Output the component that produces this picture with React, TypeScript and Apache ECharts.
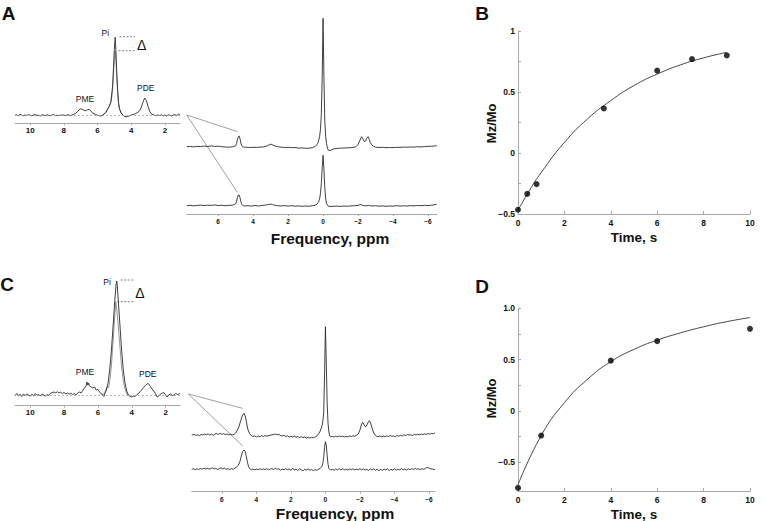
import React, { useEffect, useRef } from "react";
import * as echarts from "echarts";

// ---------- DATA ----------
// Inset A (31P spectrum, ppm vs. peak height above baseline)
const INSET_A_DARK: number[][] = [
  [10.9, 0], [10.8, 0.6], [10.7, -0.4], [10.6, 0.9], [10.5, 0.2], [10.4, -0.5], [10.3, 0.4], [10.2, -0.2], [10.1, 0.7], [10.0, 0],
  [9.9, -0.6], [9.8, 0.3], [9.7, 0.8], [9.6, -0.2], [9.5, 0.1], [9.4, -0.7], [9.3, 0.5], [9.2, 0.2], [9.1, -0.3], [9.0, 0.6],
  [8.9, 0], [8.8, -0.4], [8.7, 0.3], [8.6, 0.7], [8.5, -0.2], [8.4, 0.1], [8.3, -0.5], [8.2, 0.4], [8.1, 0], [8.0, 0.3],
  [7.9, -0.3], [7.8, 0.5], [7.7, 0.2], [7.6, -0.2], [7.5, 0.4], [7.4, 1], [7.3, 2], [7.2, 3.5], [7.1, 5.5], [7.0, 6.5],
  [6.9, 6], [6.8, 5], [6.7, 4.5], [6.6, 5.5], [6.5, 6], [6.4, 4.5], [6.3, 2.5], [6.2, 1.5], [6.1, 0.8], [6.0, 0.2],
  [5.9, -0.5], [5.8, -0.7], [5.7, 0], [5.6, 1.2], [5.5, 3], [5.4, 6], [5.3, 9], [5.2, 14], [5.1, 30], [5.05, 48],
  [5.0, 66], [4.95, 78], [4.9, 62], [4.85, 40], [4.8, 24], [4.75, 13], [4.7, 7], [4.6, 2.5], [4.5, 0.5], [4.4, -1],
  [4.3, -1.5], [4.2, -1.2], [4.1, -0.5], [4.0, 0.3], [3.9, 0.8], [3.8, 1.2], [3.7, 2], [3.6, 3], [3.5, 4.5], [3.4, 8],
  [3.3, 13], [3.2, 17.3], [3.1, 15], [3.0, 9], [2.9, 4], [2.8, 1.5], [2.7, 0.5], [2.6, 0], [2.5, -0.4], [2.4, 0.5],
  [2.3, -0.3], [2.2, 0.6], [2.1, -0.5], [2.0, 0.2], [1.9, -0.6], [1.8, 0.4], [1.7, 0.1], [1.6, -0.7], [1.5, 0.3], [1.4, 0.6],
  [1.3, -0.2], [1.2, 1.2], [1.1, 0.3],
];
const INSET_A_LIGHT: number[][] = [
  [5.8, -0.5], [5.7, 0.3], [5.6, 1.5], [5.5, 3.5], [5.4, 6.5], [5.3, 9], [5.2, 13], [5.1, 26], [5.05, 40], [5.0, 55],
  [4.95, 63.6], [4.9, 54], [4.85, 36], [4.8, 22], [4.75, 12], [4.7, 6.5], [4.6, 2.5], [4.5, 0.3], [4.4, -1], [4.3, -1.3],
];

// Main spectrum A
const SPEC_A_TOP: number[][] = [
  [7.8, 0], [7.6, 0.3], [7.4, -0.2], [7.2, 0.4], [7.0, 0.1], [6.8, 0.6], [6.6, 0.2], [6.4, 0.8], [6.2, 0.3], [6.0, 0.5],
  [5.8, 0], [5.6, -0.3], [5.4, -0.5], [5.2, -0.2], [5.1, 0.2], [5.0, 1], [4.95, 3], [4.9, 7], [4.85, 10], [4.8, 10.7],
  [4.75, 8], [4.7, 3.5], [4.65, 1], [4.6, 0], [4.5, -0.6], [4.4, -0.5], [4.2, -0.8], [4.0, -0.6], [3.8, -0.7], [3.6, -0.4],
  [3.4, -0.2], [3.2, 0.8], [3.1, 1.8], [3.0, 2.5], [2.9, 2], [2.8, 1], [2.6, 0], [2.4, -0.5], [2.2, -0.8], [2.0, -0.6],
  [1.8, -1], [1.6, -0.8], [1.4, -1.4], [1.2, -1.2], [1.0, -1.6], [0.8, -1.5], [0.6, -1], [0.45, 0.3], [0.35, 2], [0.3, 3.5],
  [0.25, 6], [0.2, 10], [0.15, 17], [0.1, 32], [0.05, 70], [0, 128.4], [-0.05, 68], [-0.1, 26], [-0.15, 10], [-0.2, 3],
  [-0.25, -1.5], [-0.3, -3.5], [-0.4, -3.8], [-0.5, -3], [-0.6, -2.2], [-0.8, -1.8], [-1.0, -1.4], [-1.2, -1.3], [-1.4, -1.1], [-1.6, -1],
  [-1.8, -0.5], [-1.9, 0.2], [-2.0, 2], [-2.1, 6], [-2.2, 10], [-2.25, 9], [-2.3, 7], [-2.35, 5.5], [-2.4, 5], [-2.45, 6.5],
  [-2.5, 8.5], [-2.57, 10], [-2.65, 7], [-2.7, 4], [-2.8, 1.5], [-2.9, 0.3], [-3.0, -0.5], [-3.2, -0.8], [-3.4, -0.6], [-3.6, -1],
  [-3.8, -0.8], [-4.0, -0.9], [-4.2, -0.6], [-4.4, -0.7], [-4.6, -0.4], [-4.8, -0.5], [-5.0, -0.3], [-5.2, -0.4], [-5.4, 0], [-5.6, -0.2],
  [-5.8, 0.1], [-6.0, 0.3], [-6.2, 0.4], [-6.4, 0.8], [-6.5, 1],
];
const SPEC_A_BOTTOM: number[][] = [
  [7.8, 0], [7.6, 0.4], [7.4, -0.2], [7.2, 0.3], [7.0, 0.6], [6.8, 0.1], [6.6, 0.5], [6.4, 0.3], [6.2, 0.7], [6.0, 0.2],
  [5.8, 0.4], [5.6, 0], [5.4, 0.3], [5.2, 0.5], [5.1, 1], [5.0, 2], [4.95, 4], [4.9, 8], [4.85, 10.5], [4.8, 10.7],
  [4.75, 8], [4.7, 4], [4.65, 1.5], [4.6, 0.3], [4.5, -0.3], [4.3, 0], [4.1, -0.4], [3.9, 0.2], [3.7, -0.3], [3.5, 0.2],
  [3.3, 0.6], [3.1, 1.3], [3.0, 1.5], [2.9, 1.2], [2.8, 0.6], [2.6, 0], [2.4, -0.3], [2.2, 0.1], [2.0, -0.4], [1.8, 0],
  [1.6, -0.5], [1.4, -0.2], [1.2, -0.6], [1.0, -0.3], [0.8, -0.5], [0.6, 0], [0.45, 0.5], [0.35, 1.5], [0.25, 4], [0.2, 7],
  [0.15, 12], [0.1, 22], [0.05, 38], [0, 50.4], [-0.05, 36], [-0.1, 18], [-0.15, 7], [-0.2, 2], [-0.3, -0.5], [-0.4, -0.8],
  [-0.6, -0.6], [-0.8, -0.4], [-1.0, -0.7], [-1.2, -0.3], [-1.4, -0.5], [-1.6, -0.2], [-1.8, 0], [-2.0, 0.3], [-2.15, 1.2], [-2.25, 0.5],
  [-2.4, -0.2], [-2.6, 0.3], [-2.8, -0.3], [-3.0, 0], [-3.2, -0.5], [-3.4, -0.2], [-3.6, -0.6], [-3.8, -0.3], [-4.0, -0.5], [-4.2, 0],
  [-4.4, -0.4], [-4.6, -0.1], [-4.8, -0.3], [-5.0, 0.1], [-5.2, -0.2], [-5.4, 0.2], [-5.6, 0], [-5.8, 0.3], [-6.0, 0.1], [-6.2, 0.5],
  [-6.4, 1], [-6.5, 1.5],
];

// Panel B
const B_TIME = [0, 0.4, 0.8, 3.7, 6, 7.5, 9];
const B_MZ = [-0.465, -0.335, -0.255, 0.365, 0.675, 0.77, 0.8];
const B_FIT_TIME = [0, 0.5, 1, 2, 3, 4, 5, 6, 7, 8, 9];
const B_FIT_MZ = [-0.47, -0.305, -0.16, 0.087, 0.28, 0.43, 0.553, 0.647, 0.722, 0.78, 0.825];

// Inset C
const INSET_C_DARK: number[][] = [
  [10.9, -0.5], [10.8, 1.5], [10.7, -1], [10.6, 0.8], [10.5, -1.5], [10.4, 1], [10.3, -0.5], [10.2, 1.2], [10.1, 0], [10.0, -1.2],
  [9.9, 0.8], [9.8, -0.8], [9.7, 1.5], [9.6, -0.3], [9.5, 0.5], [9.4, -1], [9.3, 1], [9.2, 0], [9.1, -1.2], [9.0, 0.5],
  [8.9, -0.5], [8.8, 1.8], [8.7, 2.5], [8.6, 3], [8.5, 2.2], [8.4, 3.2], [8.3, 2], [8.2, 2.8], [8.1, 1.5], [8.0, 2.5],
  [7.9, 1.2], [7.8, 2], [7.7, 0.8], [7.6, 1.8], [7.5, 0.5], [7.4, 1.5], [7.3, 0.2], [7.2, 1.8], [7.1, 3], [7.0, 2],
  [6.9, 4.5], [6.8, 7], [6.7, 9], [6.65, 13], [6.6, 10], [6.55, 12], [6.5, 9], [6.4, 8], [6.3, 7], [6.2, 8],
  [6.1, 5], [6.0, 5.5], [5.9, 3], [5.8, 1], [5.7, -0.5], [5.65, -1.5], [5.6, 1], [5.5, 5], [5.4, 12], [5.3, 26],
  [5.2, 45], [5.1, 70], [5.0, 95], [4.93, 110], [4.89, 114], [4.85, 108], [4.8, 95], [4.7, 70], [4.6, 45], [4.5, 25],
  [4.4, 12], [4.3, 4], [4.2, 0], [4.1, -1.5], [4.0, -2], [3.9, -1], [3.8, -1.5], [3.7, 0.5], [3.6, 1.5], [3.5, 3.5],
  [3.4, 5.5], [3.3, 7.5], [3.2, 9.5], [3.1, 11], [3.05, 11.7], [3.0, 11], [2.9, 8.5], [2.8, 6], [2.7, 4], [2.6, 1.5],
  [2.5, -2], [2.4, -1], [2.3, 1], [2.2, 2], [2.1, 2.3], [2.0, 0], [1.9, -2], [1.8, 0.5], [1.7, 1], [1.6, -0.5],
  [1.5, 0], [1.4, 1.5], [1.3, 0.5], [1.2, 1], [1.15, 1.5],
];
const INSET_C_LIGHT: number[][] = [
  [5.8, 1], [5.7, 0], [5.6, 2.5], [5.5, 6], [5.45, 8], [5.4, 7], [5.35, 9], [5.3, 14], [5.2, 30], [5.1, 55],
  [5.0, 80], [4.95, 93.3], [4.9, 88], [4.8, 70], [4.7, 48], [4.6, 28], [4.5, 14], [4.4, 6], [4.3, 1.5], [4.2, -0.5],
];

// Main spectrum C
const SPEC_C_TOP: number[][] = [
  [7.75, 0], [7.6, 0.5], [7.5, -0.5], [7.4, 0.2], [7.3, -0.8], [7.2, 0.6], [7.1, 0], [7.0, 1], [6.9, 0.3], [6.8, 1.2],
  [6.7, 0], [6.6, 0.8], [6.5, -0.3], [6.4, 1], [6.3, 1.5], [6.2, 0.5], [6.1, 1.8], [6.0, 0.6], [5.9, 1.4], [5.8, 0.4],
  [5.7, 1], [5.6, 0.2], [5.5, 0.8], [5.4, 0], [5.3, 0.6], [5.2, 2], [5.1, 5], [5.0, 9], [4.9, 15], [4.8, 20],
  [4.72, 21.7], [4.65, 19], [4.6, 15], [4.5, 6], [4.4, 1.5], [4.3, -0.5], [4.2, -1.5], [4.1, -0.8], [4.0, -2], [3.9, -1],
  [3.8, -1.8], [3.7, -0.6], [3.6, -1.5], [3.5, -0.5], [3.4, -1.2], [3.2, -0.2], [3.0, 0.5], [2.9, 1], [2.8, 0.3], [2.7, 0.6],
  [2.6, -0.5], [2.5, -1], [2.4, -0.3], [2.3, -1.5], [2.2, -0.8], [2.1, -2], [2.0, -1.2], [1.9, -2], [1.8, -1], [1.7, -2.3],
  [1.6, -1.5], [1.5, -2.5], [1.4, -1.7], [1.3, -2.6], [1.2, -2], [1.1, -3], [1.0, -2.2], [0.9, -3], [0.8, -2.4], [0.7, -2.8],
  [0.6, -2], [0.5, -1], [0.4, 1], [0.3, 4], [0.2, 9], [0.15, 14], [0.1, 22], [0.05, 60], [0, 108.3], [-0.05, 72],
  [-0.1, 32], [-0.15, 12], [-0.2, 3], [-0.25, -1], [-0.3, -1.8], [-0.4, -1.5], [-0.5, -2], [-0.6, -1.2], [-0.7, -1.8], [-0.8, -1],
  [-0.9, -1.6], [-1.0, -1.2], [-1.1, -2], [-1.2, -1.3], [-1.3, -1.8], [-1.4, -1], [-1.5, -1.5], [-1.6, -0.8], [-1.7, -1.2], [-1.8, -0.3],
  [-1.9, 1], [-2.0, 5], [-2.08, 10], [-2.15, 12.7], [-2.22, 11], [-2.3, 8.5], [-2.35, 8.3], [-2.42, 10.5], [-2.5, 13.5], [-2.55, 14.3],
  [-2.62, 12], [-2.7, 7], [-2.78, 3], [-2.85, 0.5], [-2.95, -1], [-3.05, -1.8], [-3.15, -1], [-3.25, -2], [-3.35, -1.2], [-3.45, -1.8],
  [-3.55, -0.8], [-3.65, -1.5], [-3.75, -0.6], [-3.85, -1.3], [-3.95, -1], [-4.05, -1.8], [-4.15, -0.5], [-4.25, -1.2], [-4.35, -0.3], [-4.45, -1],
  [-4.55, 0.2], [-4.65, -0.6], [-4.75, 0.5], [-4.85, -0.2], [-4.95, 0.3], [-5.05, -0.5], [-5.15, 0.6], [-5.25, 0], [-5.35, 0.8], [-5.45, 0.2],
  [-5.55, 1], [-5.65, 0.3], [-5.75, 1.2], [-5.85, 0.6], [-5.95, 1.5], [-6.05, 0.8], [-6.15, 1.6], [-6.25, 1.2], [-6.35, 2.2],
];
const SPEC_C_BOTTOM: number[][] = [
  [7.75, 0], [7.65, 0.6], [7.55, -0.4], [7.45, 0.5], [7.35, -0.2], [7.25, 0.8], [7.15, 0.1], [7.05, 1], [6.95, 0.3], [6.85, 1.2],
  [6.75, 0.2], [6.65, 0.7], [6.55, 1.5], [6.45, 0.3], [6.35, 1], [6.25, -0.2], [6.15, 0.8], [6.05, 1.6], [5.95, 0.4], [5.85, 1.1],
  [5.75, 0], [5.65, 0.7], [5.55, -0.3], [5.45, 0.6], [5.35, 0], [5.25, 1], [5.15, 2.5], [5.05, 4], [4.95, 8], [4.88, 13],
  [4.8, 17.5], [4.72, 19.3], [4.65, 18], [4.6, 14], [4.52, 7], [4.45, 2.5], [4.38, 0.5], [4.3, -0.5], [4.2, 0.3], [4.1, -0.6],
  [4.0, 0.2], [3.9, -0.4], [3.8, 0.5], [3.7, -0.3], [3.6, 0.4], [3.5, -0.2], [3.4, 0.6], [3.3, -0.5], [3.2, 0.3], [3.1, 0.7],
  [3.0, -0.2], [2.9, 1], [2.8, 0], [2.7, 0.5], [2.6, -0.8], [2.5, 0.2], [2.4, -0.5], [2.3, 0.6], [2.2, -0.3], [2.1, 0.4],
  [2.0, -1], [1.9, 1.2], [1.8, -0.8], [1.7, 0.3], [1.6, -1.2], [1.5, 0.5], [1.4, -0.6], [1.3, -1.5], [1.2, 0], [1.1, -0.8],
  [1.0, 0.4], [0.9, -1], [0.8, -0.2], [0.7, -1.3], [0.6, -0.3], [0.5, -1], [0.4, 0], [0.3, 1], [0.2, 3], [0.15, 6],
  [0.1, 12], [0.05, 22], [0, 27.6], [-0.05, 24], [-0.1, 14], [-0.15, 5], [-0.2, 1], [-0.3, -0.8], [-0.4, 0.2], [-0.5, -1],
  [-0.6, 0.3], [-0.7, -0.6], [-0.8, 0.5], [-0.9, -0.4], [-1.0, 0.6], [-1.1, -0.5], [-1.2, 0.2], [-1.3, -0.8], [-1.4, 0.4], [-1.5, -0.3],
  [-1.6, 0.5], [-1.7, -0.6], [-1.8, 0.2], [-1.9, -0.4], [-2.0, 0.5], [-2.1, -0.5], [-2.2, 0.3], [-2.3, -0.8], [-2.4, 0], [-2.5, -1.2],
  [-2.6, 0.4], [-2.7, -0.7], [-2.8, 0.5], [-2.9, -1], [-3.0, 0.2], [-3.1, -1.3], [-3.2, -0.2], [-3.3, -1], [-3.4, 0.3], [-3.5, -0.8],
  [-3.6, 0.4], [-3.7, -1.2], [-3.8, 0], [-3.9, -0.9], [-4.0, 0.5], [-4.1, -1], [-4.2, 0.2], [-4.3, -0.6], [-4.4, 0.7], [-4.5, -0.4],
  [-4.6, 0.3], [-4.7, -0.8], [-4.8, 0.5], [-4.9, -0.3], [-5.0, 0.6], [-5.1, -0.2], [-5.2, 0.8], [-5.3, 0], [-5.4, 0.5], [-5.5, -0.4],
  [-5.6, 0.6], [-5.7, 0], [-5.8, 1], [-5.9, 2], [-6.0, 1.2], [-6.1, 0.5], [-6.2, 0.3], [-6.35, -0.5],
];

// Panel D
const D_TIME = [0, 1, 4, 6, 10];
const D_MZ = [-0.75, -0.24, 0.49, 0.68, 0.8];
const D_FIT_TIME = [0, 1, 2, 3, 4, 5, 6, 7, 8, 9, 10];
const D_FIT_MZ = [-0.72, -0.24, 0.08, 0.31, 0.48, 0.6, 0.69, 0.76, 0.82, 0.87, 0.91];

// Tick labels
const INSET_TICKS = [10, 8, 6, 4, 2];
const SPEC_TICKS = [6, 4, 2, 0, -2, -4, -6];
const B_Y_LABELS = [-0.5, 0, 0.5, 1];
const B_Y_TICKS = [-0.5, -0.25, 0, 0.25, 0.5, 0.75, 1];
const D_Y_LABELS = [-0.5, 0, 0.5, 1];
const D_Y_TICKS = [-0.75, -0.5, -0.25, 0, 0.25, 0.5, 0.75, 1];

// ---------- LAYOUT ----------
const FONT = "'Liberation Sans', Arial, Helvetica, sans-serif";
const AXIS_C = "#a8a8a8";
const TXT = "#111";
const TRACE = "#2a2a2a";

const G_INSET_A = { left: 15, top: 20, width: 165, bottom: 123.3, base: 115.3 };
const G_SPEC_A = { left: 186.7, top: 10, width: 250, bottom: 214, baseTop: 146.7, baseBot: 205.7 };
const G_B = { left: 518, top: 31, width: 232, bottom: 214 };
const G_INSET_C = { left: 15, top: 270, width: 165, bottom: 405.7, base: 395 };
const G_SPEC_C = { left: 191.7, top: 300, width: 243.3, bottom: 491.7, baseTop: 435, baseBot: 469.3 };
const G_D = { left: 518, top: 308.3, width: 232, bottom: 491 };

function grid(g: any) {
  return { left: g.left, top: g.top, width: g.width, height: g.bottom - g.top, containLabel: false };
}
function hiddenY(gridIndex: number, top: number, bottom: number, base: number) {
  return { type: "value", gridIndex, show: false, min: -(bottom - base), max: base - top, splitLine: { show: false } };
}
const minus = (s: string) => s.replace("-", "\u2212");

function ppmAxis(gridIndex: number, min: number, max: number, ticks: number[], fontSize: number, margin: number) {
  return {
    type: "value", gridIndex, min, max, inverse: true,
    axisLine: { show: true, onZero: false, lineStyle: { color: AXIS_C, width: 1 } },
    axisTick: { show: true, inside: false, length: 2, customValues: ticks, lineStyle: { color: AXIS_C } },
    axisLabel: {
      show: true, customValues: ticks, margin, fontSize, fontWeight: "bold", fontFamily: FONT, color: TXT,
      formatter: (v: number) => minus(String(v)),
    },
    splitLine: { show: false },
  };
}
function timeAxis(gridIndex: number) {
  return {
    type: "value", gridIndex, min: 0, max: 10, interval: 2,
    axisLine: { show: true, onZero: false, lineStyle: { color: AXIS_C, width: 1 } },
    axisTick: { show: true, inside: true, length: 3, lineStyle: { color: AXIS_C } },
    axisLabel: { margin: 4, fontSize: 8.5, fontWeight: "bold", fontFamily: FONT, color: TXT },
    splitLine: { show: false },
  };
}
function mzAxis(gridIndex: number, min: number, max: number, labels: number[], ticks: number[], fmt: (v: number) => string) {
  return {
    type: "value", gridIndex, min, max,
    axisLine: { show: true, onZero: false, lineStyle: { color: AXIS_C, width: 1 } },
    axisTick: { show: true, inside: true, length: 3, customValues: ticks, lineStyle: { color: AXIS_C } },
    axisLabel: { customValues: labels, margin: 3, fontSize: 8.5, fontWeight: "bold", fontFamily: FONT, color: TXT, formatter: fmt },
    splitLine: { show: false },
  };
}

function trace(data: number[][], xAxisIndex: number, yAxisIndex: number, color = TRACE, width = 0.9, extra: any = {}) {
  return {
    type: "line", data, xAxisIndex, yAxisIndex, showSymbol: false, symbol: "none", smooth: false,
    lineStyle: { color, width }, silent: true, z: 3, ...extra,
  };
}
const baseMark = {
  silent: true, symbol: ["none", "none"], label: { show: false },
  lineStyle: { type: [2, 2], color: "#999", width: 0.7 },
  data: [{ yAxis: 0 }],
};
const zip = (a: number[], b: number[]) => a.map((v, i) => [v, b[i]]);

function txt(text: string, x: number, y: number, fontSize: number, bold = false, extra: any = {}) {
  return {
    type: "text", x, y, ...extra,
    style: { text, fontSize, fontWeight: bold ? "bold" : "normal", fontFamily: FONT, fill: TXT, align: "center", verticalAlign: "middle" },
    silent: true,
  };
}
function ln(x1: number, y1: number, x2: number, y2: number, dashed = false) {
  return {
    type: "line", shape: { x1, y1, x2, y2 }, silent: true,
    style: { stroke: dashed ? "#666" : "#888", lineWidth: 0.8, lineDash: dashed ? [2, 1.5] : null },
  };
}

export default function App() {
  const ref = useRef<HTMLDivElement>(null);
  useEffect(() => {
    if (!ref.current) return;
    const chart = echarts.init(ref.current, undefined, { renderer: "svg" });
    const fmtB = (v: number) => (v === 0 ? "0" : minus(String(v)));
    const fmtD = (v: number) => (v === 0 ? "0" : minus(v.toFixed(1)));
    const option: any = {
      animation: false,
      backgroundColor: "#ffffff",
      grid: [grid(G_INSET_A), grid(G_SPEC_A), grid(G_B), grid(G_INSET_C), grid(G_SPEC_C), grid(G_D)],
      xAxis: [
        ppmAxis(0, 1.1, 10.9, INSET_TICKS, 8, 3),
        ppmAxis(1, -6.5, 7.8, SPEC_TICKS, 6.5, 4),
        timeAxis(2),
        ppmAxis(3, 1.15, 10.9, INSET_TICKS, 8, 3),
        ppmAxis(4, -6.35, 7.75, SPEC_TICKS, 6.5, 4),
        timeAxis(5),
      ],
      yAxis: [
        hiddenY(0, G_INSET_A.top, G_INSET_A.bottom, G_INSET_A.base),
        hiddenY(1, G_SPEC_A.top, G_SPEC_A.bottom, G_SPEC_A.baseTop),
        hiddenY(1, G_SPEC_A.top, G_SPEC_A.bottom, G_SPEC_A.baseBot),
        mzAxis(2, -0.5, 1, B_Y_LABELS, B_Y_TICKS, fmtB),
        hiddenY(3, G_INSET_C.top, G_INSET_C.bottom, G_INSET_C.base),
        hiddenY(4, G_SPEC_C.top, G_SPEC_C.bottom, G_SPEC_C.baseTop),
        hiddenY(4, G_SPEC_C.top, G_SPEC_C.bottom, G_SPEC_C.baseBot),
        mzAxis(5, -0.78, 1, D_Y_LABELS, D_Y_TICKS, fmtD),
      ],
      series: [
        trace(INSET_A_LIGHT, 0, 0, "#8a8a8a", 0.9),
        trace(INSET_A_DARK, 0, 0, TRACE, 0.9, { markLine: baseMark }),
        trace(SPEC_A_TOP, 1, 1),
        trace(SPEC_A_BOTTOM, 1, 2),
        trace(zip(B_FIT_TIME, B_FIT_MZ), 2, 3, "#333", 0.9, { smooth: true }),
        { type: "scatter", data: zip(B_TIME, B_MZ), xAxisIndex: 2, yAxisIndex: 3, symbolSize: 6, itemStyle: { color: "#000" }, z: 4 },
        trace(INSET_C_LIGHT, 3, 4, "#8a8a8a", 0.9),
        trace(INSET_C_DARK, 3, 4, TRACE, 0.9, { markLine: baseMark }),
        trace(SPEC_C_TOP, 4, 5),
        trace(SPEC_C_BOTTOM, 4, 6),
        trace(zip(D_FIT_TIME, D_FIT_MZ), 5, 7, "#333", 0.9, { smooth: true }),
        { type: "scatter", data: zip(D_TIME, D_MZ), xAxisIndex: 5, yAxisIndex: 7, symbolSize: 6, itemStyle: { color: "#000" }, z: 4 },
      ],
      graphic: [
        // panel letters
        txt("A", 8.5, 13.5, 19, true),
        txt("B", 482, 13.5, 19, true),
        txt("C", 7, 284.5, 19, true),
        txt("D", 482, 286, 19, true),
        // inset A annotations
        txt("Pi", 105.3, 32.7, 8.5),
        txt("PME", 85, 99, 8.5),
        txt("PDE", 145.7, 88.3, 8.5),
        txt("\u0394", 141.7, 44.5, 14),
        ln(119.5, 36.7, 135, 36.7, true),
        ln(118.5, 50.7, 135, 50.7, true),
        // inset C annotations
        txt("Pi", 107, 281.5, 8.5),
        txt("PME", 85, 372.3, 8.5),
        txt("PDE", 147.7, 374, 8.5),
        txt("\u0394", 140, 293.3, 14),
        ln(120.7, 280, 135, 280, true),
        ln(117.3, 301.7, 135, 301.7, true),
        // connecting lines
        ln(186.7, 115, 237.7, 131.7),
        ln(186.7, 115, 237.3, 192.3),
        ln(188.3, 394, 242.7, 408.3),
        ln(188.3, 394, 242.7, 446),
        // axis names
        txt("Frequency, ppm", 330, 238, 15.5, true),
        txt("Frequency, ppm", 335, 513, 15.5, true),
        txt("Time, s", 634, 237.5, 13.5, true),
        txt("Time, s", 634, 514, 13.5, true),
        txt("Mz/Mo", 0, 0, 13, true, { x: 491, y: 123.3, rotation: Math.PI / 2 }),
        txt("Mz/Mo", 0, 0, 13, true, { x: 491.7, y: 398.3, rotation: Math.PI / 2 }),
      ],
    };
    chart.setOption(option);
    return () => chart.dispose();
  }, []);
  return (
    <div
      ref={ref}
      style={{ position: "fixed", left: 0, top: 0, width: 766, height: 521, background: "#fff" }}
    />
  );
}
